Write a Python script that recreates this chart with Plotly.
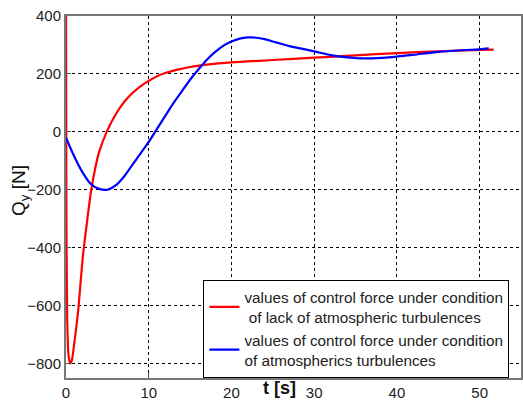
import plotly.graph_objects as go

# Red: no atmospheric turbulence
t_red = [0, 0.05, 0.15, 0.3, 0.5, 0.7, 1.0, 1.5, 2.0, 2.5, 3.0, 3.5, 4.0, 5.0, 6.0, 7.0, 8.0, 9.0, 10.0,
         11.0, 12.0, 13.5, 15.0, 17.0, 20.0, 25.0, 30.0, 35.0, 40.0, 45.0, 50.0, 51.7]
q_red = [420, -300, -650, -770, -800, -790, -730, -610, -440, -320, -210, -130, -70, 5, 60, 102, 133, 157, 176,
         192, 203, 215, 224, 232, 240, 248, 256, 264, 272, 278, 283, 284]

# Blue: with atmospheric turbulence
t_blue = [0, 1, 2, 3, 4, 5, 6, 7, 8, 9, 10, 11, 12, 13, 14, 15, 16, 17, 18, 19, 20, 21, 22, 23, 24, 25,
          26, 27, 28, 30, 32, 34, 35.5, 37, 40, 42, 45, 48, 50, 51.1]
q_blue = [-20, -85, -140, -180, -197, -200, -185, -155, -115, -75, -35, 10, 55, 100, 140, 180, 215, 248, 275, 297,
          312, 322, 326, 325, 320, 312, 304, 296, 290, 278, 265, 257, 254, 254, 260, 266, 276, 282, 285, 288]

fig = go.Figure()
fig.add_trace(go.Scatter(x=t_red, y=q_red, mode="lines", line=dict(color="#ff0000", width=2.2, shape="spline", smoothing=0.6),
                         name="values of control force under condition<br> of lack of atmospheric turbulences"))
fig.add_trace(go.Scatter(x=t_blue, y=q_blue, mode="lines", line=dict(color="#0000ff", width=2.2, shape="spline", smoothing=0.8),
                         name="values of control force under condition<br>of atmospherics turbulences"))

axis_common = dict(showgrid=True, gridcolor="black", griddash="3px,3px", gridwidth=1, zeroline=False,
                   showline=True, linecolor="#777777", linewidth=2, mirror=True, ticks="inside", ticklen=5,
                   tickcolor="#555555", tickfont=dict(family="Liberation Sans, Arial", size=15, color="#222222"))

fig.update_layout(
    width=523, height=401, paper_bgcolor="white", plot_bgcolor="white",
    margin=dict(l=66, r=0, t=16, b=22),
    xaxis=dict(range=[0, 55], tickvals=[0, 10, 20, 30, 40, 50], **axis_common),
    yaxis=dict(range=[-850, 400], tickvals=[-800, -600, -400, -200, 0, 200, 400], **axis_common),
    legend=dict(x=0.302, y=0.272, xanchor="left", yanchor="top", bgcolor="white", bordercolor="black",
                borderwidth=1, font=dict(family="Liberation Sans, Arial", size=15.3, color="#222222"),
                itemwidth=30, tracegroupgap=0),
    showlegend=True,
    annotations=[
        dict(text="<b>t [s]</b>", xref="paper", yref="paper", x=0.47, y=0.0, xanchor="center", yanchor="top",
             yshift=2, showarrow=False, font=dict(family="Liberation Sans, Arial", size=18, color="#111111")),
        dict(text="Q<sub>y</sub> [N]", xref="paper", yref="paper", x=-0.1, y=0.518, xanchor="center", yanchor="middle",
             textangle=-90, showarrow=False, font=dict(family="Liberation Sans, Arial", size=19, color="#111111")),
    ],
)

fig.write_html("out.html")
